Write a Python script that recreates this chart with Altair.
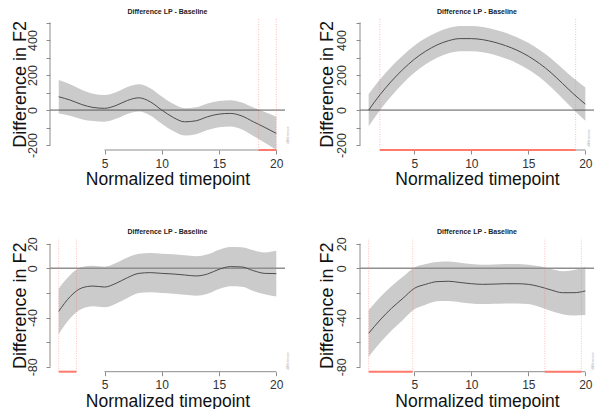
import altair as alt
import pandas as pd

# ---------------- data ----------------
t = list(range(1, 21))

p1_est = [76, 57, 32, 15, 10, 26, 55, 70, 47, 0, -42, -67, -61, -38, -23, -19, -34, -67, -99, -133]
p1_ci = [96, 90, 84, 78, 76, 76, 77, 78, 78, 78, 78, 78, 77, 76, 75, 75, 77, 81, 88, 95]

p2_est = [0, 88, 165, 232, 290, 336, 372, 396, 408, 408, 402, 388, 368, 342, 308, 265, 213, 152, 90, 34]
p2_ci = [92, 88, 84, 80, 77, 75, 73, 72, 72, 72, 72, 72, 73, 74, 76, 78, 82, 86, 90, 95]

p3_est = [-35, -23, -16, -14.4, -15.2, -12.2, -7.6, -4.1, -3.5, -4.1, -4.6, -5.4, -6.2, -4.6, -0.8, 1.4, 1.1, -1.9, -4.1, -4.3]
p3_ci = [18.5, 17.5, 17, 16.5, 16.5, 16.5, 16.5, 16, 16, 16, 16, 16, 16, 16, 16, 16, 16, 16.5, 17, 18.5]

p4_est = [-52.8, -42, -32.5, -24.4, -16.3, -13, -10.8, -10.5, -11.5, -12.5, -13, -12.8, -12.5, -12.5, -13, -14.9, -17.6, -19.8, -19.8, -18.4]
p4_ci = [19, 18.5, 18, 17.5, 17, 16.5, 16, 16, 16, 16, 16, 16, 16, 16, 16, 16.5, 17, 17.5, 18.5, 19.5]

# significant-difference windows (start, end)
p1_sig = [(18.46, 20.0)]
p2_sig = [(1.98, 19.15)]
p3_sig = [(1.0, 2.55)]
p4_sig = [(1.0, 4.87), (16.45, 19.65)]

x_ticks = [5, 10, 15, 20]
y_ticks_top = [-200, -100, 0, 100, 200, 300, 400, 500]
y_labels_top = [-200, 0, 200, 400]
y_ticks_bot = [-80, -60, -40, -20, 0, 20]
y_labels_bot = [-80, -40, 0, 20]

title_text = "Difference LP - Baseline"
x_title = "Normalized timepoint"
y_title = "Difference in F2"
small_text = "difference"

FONT = "Liberation Sans"
AXIS_GREY = "#8c8c8c"
W, H = 597, 409
XDOM = [0.24, 20.76]


def panel(est, ci, sig, xr, yr, ydom, yticks, ylabels, zero_color, zero_w,
          title_px_y, ytitle_x, ylab_pad, small_xy):
    df = pd.DataFrame({
        "t": t,
        "est": est,
        "lo": [e - c for e, c in zip(est, ci)],
        "hi": [e + c for e, c in zip(est, ci)],
    })
    xs = alt.Scale(domain=XDOM, range=xr, nice=False, zero=False)
    ys = alt.Scale(domain=ydom, range=yr, nice=False, zero=False)

    x_axis = alt.Axis(
        orient="bottom", offset=yr[0] - H, values=x_ticks, domain=False, grid=False,
        tickSize=4, tickColor=AXIS_GREY, tickWidth=1,
        labelFont=FONT, labelFontSize=12, labelColor="#333333",
        labelBaseline="top", labelPadding=4, labelFlush=False, labelOverlap=False,
        title=x_title, titleFont=FONT, titleFontSize=17.5, titleFontWeight="normal",
        titleColor="#111111", titleX=(xr[0] + xr[1]) / 2, titleY=34.3,
        titleAlign="center", titleBaseline="alphabetic",
    )
    lab_list = "[" + ",".join(str(v) for v in ylabels) + "]"
    y_axis = alt.Axis(
        orient="left", offset=-xr[0], values=yticks, domain=False, grid=False,
        tickSize=4, tickColor=AXIS_GREY, tickWidth=1,
        labelFont=FONT, labelFontSize=12.5, labelColor="#333333",
        labelAngle=270, labelAlign="center", labelBaseline="alphabetic",
        labelPadding=ylab_pad, labelFlush=False, labelOverlap=False,
        labelExpr=f"indexof({lab_list}, datum.value) >= 0 ? '' + datum.value : ''",
        title=y_title, titleFont=FONT, titleFontSize=18, titleFontWeight="normal",
        titleColor="#111111", titleAngle=270, titleX=ytitle_x,
        titleY=(yr[0] + yr[1]) / 2, titleAlign="center", titleBaseline="alphabetic",
    )

    base = alt.Chart(df)
    band = base.mark_area(color="#cbcbcb", interpolate="monotone").encode(
        x=alt.X("t:Q", scale=xs, axis=x_axis),
        y=alt.Y("lo:Q", scale=ys, axis=y_axis),
        y2="hi:Q",
    )
    zero = alt.Chart(df.head(1)).mark_rule(color=zero_color, strokeWidth=zero_w).encode(
        x=alt.XDatum(XDOM[0], scale=xs, axis=None),
        x2=alt.X2Datum(XDOM[1]),
        y=alt.YDatum(0, scale=ys, axis=None),
    )
    line = base.mark_line(color="#4d4d4d", strokeWidth=1, interpolate="monotone").encode(
        x=alt.X("t:Q", scale=xs, axis=None),
        y=alt.Y("est:Q", scale=ys, axis=None),
    )
    ydom_rule = alt.Chart(df.head(1)).mark_rule(color=AXIS_GREY, strokeWidth=1).encode(
        x=alt.XDatum(XDOM[0], scale=xs, axis=None),
        y=alt.YDatum(yticks[0], scale=ys, axis=None),
        y2=alt.Y2Datum(yticks[-1]),
    )
    xdom_rule = alt.Chart(df.head(1)).mark_rule(color=AXIS_GREY, strokeWidth=1).encode(
        x=alt.XDatum(x_ticks[0], scale=xs, axis=None),
        x2=alt.X2Datum(x_ticks[-1]),
        y=alt.YDatum(ydom[0], scale=ys, axis=None),
    )
    sig_df = pd.DataFrame({"a": [s[0] for s in sig], "b": [s[1] for s in sig]})
    edges_df = pd.DataFrame({"v": [v for s in sig for v in s]})
    vlines = alt.Chart(edges_df).mark_rule(
        color="#ff6a6a", strokeWidth=1, strokeDash=[1, 1.5], opacity=0.45
    ).encode(
        x=alt.X("v:Q", scale=xs, axis=None),
        y=alt.YDatum(ydom[0], scale=ys, axis=None),
        y2=alt.Y2Datum(ydom[1]),
    )
    seg = alt.Chart(sig_df).mark_rule(color="#ff7a6a", strokeWidth=2).encode(
        x=alt.X("a:Q", scale=xs, axis=None),
        x2="b:Q",
        y=alt.YDatum(ydom[0], scale=ys, axis=None),
    )
    title = alt.Chart(df.head(1)).mark_text(
        text=title_text, font=FONT, fontSize=7, fontWeight="bold", color="#222222",
        align="center", baseline="middle",
    ).encode(
        x=alt.XDatum((XDOM[0] + XDOM[1]) / 2, scale=xs, axis=None),
        y=alt.value(title_px_y),
    )
    small = alt.Chart(df.head(1)).mark_text(
        text=small_text, font=FONT, fontSize=4, color="#b0b0b0", angle=270,
        align="center", baseline="middle",
    ).encode(x=alt.value(small_xy[0]), y=alt.value(small_xy[1]))
    return [band, zero, line, ydom_rule, xdom_rule, vlines, seg, title, small]


layers = []
layers += panel(p1_est, p1_ci, p1_sig, [50, 285], [150, 17.6], [-228, 528],
                y_ticks_top, y_labels_top, "#5a5a5a", 1, 11.7, -25, 9.3, (288, 135))
layers += panel(p2_est, p2_ci, p2_sig, [360, 594], [150, 17.6], [-228, 528],
                y_ticks_top, y_labels_top, "#5a5a5a", 1, 11.7, -28, 11, (589, 138))
layers += panel(p3_est, p3_ci, p3_sig, [50, 285], [371.7, 238.8], [-84, 24],
                y_ticks_bot, y_labels_bot, "#8f8f8f", 1.5, 232.3, -25, 9.3, (288, 361))
layers += panel(p4_est, p4_ci, p4_sig, [360, 594], [371.7, 238.8], [-84, 24],
                y_ticks_bot, y_labels_bot, "#8f8f8f", 1.5, 232.3, -28, 11, (593, 361))

chart = alt.layer(*layers).resolve_scale(
    x="independent", y="independent"
).resolve_axis(
    x="independent", y="independent"
).properties(
    width=W, height=H, autosize=alt.AutoSizeParams(type="none"), padding=0,
    background="white",
).configure_view(strokeWidth=0)

chart.save("out.html", embed_options={"renderer": "svg", "actions": False})
